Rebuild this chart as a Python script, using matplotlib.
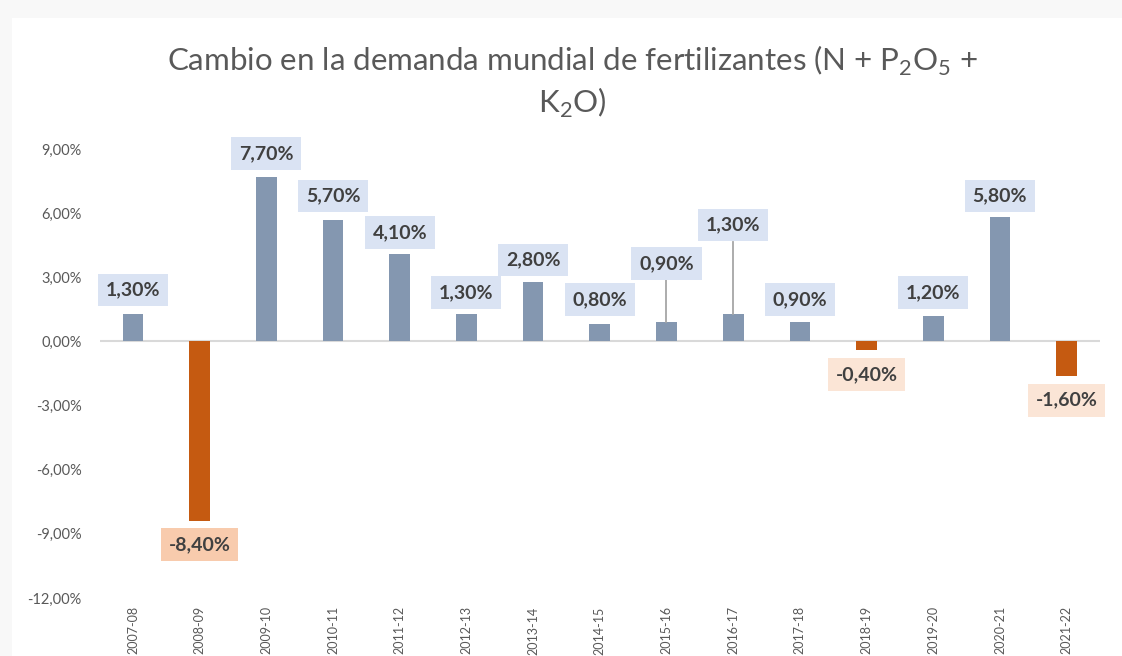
import matplotlib.pyplot as plt
from matplotlib.patches import Rectangle
from matplotlib.ticker import FuncFormatter

plt.rcParams['font.family'] = ['Lato', 'DejaVu Sans']
plt.rcParams['mathtext.fontset'] = 'custom'
plt.rcParams['mathtext.rm'] = 'Lato'

periodos = ['2007-08', '2008-09', '2009-10', '2010-11', '2011-12', '2012-13', '2013-14',
            '2014-15', '2015-16', '2016-17', '2017-18', '2018-19', '2019-20', '2020-21', '2021-22']
cambio = [1.3, -8.4, 7.7, 5.7, 4.1, 1.3, 2.8, 0.8, 0.9, 1.3, 0.9, -0.4, 1.2, 5.8, -1.6]
# centro de cada etiqueta (en % del eje), movidas a mano como en el original
pos_etiqueta = [2.4, -9.5, 8.8, 6.8, 5.1, 2.3, 3.8, 1.95, 3.65, 5.45, 1.95, -1.55, 2.3, 6.8, -2.75]

azul = '#8497B0'
naranja = '#C55A11'

fig = plt.figure(figsize=(11.22, 6.56), dpi=100, facecolor='#F8F8F8')
fig.patches.append(Rectangle((12 / 1122, 0), 1, (656 - 18) / 656, transform=fig.transFigure,
                             facecolor='white', edgecolor='none', zorder=-5))

ax = fig.add_axes([99.6 / 1122, 58 / 656, 1000.4 / 1122, 449 / 656])
ax.set_facecolor('none')

x = range(len(periodos))
colores = [azul if v >= 0 else naranja for v in cambio]
ax.bar(x, cambio, width=0.31, color=colores, zorder=2)
ax.axhline(0, color='#D9D9D9', lw=1.5, zorder=1)

for i, (v, p) in enumerate(zip(cambio, pos_etiqueta)):
    if v >= 0:
        caja = '#DAE3F3'
    elif v < -5:
        caja = '#F8CBAD'
    else:
        caja = '#FBE5D6'
    txt = f'{v:.2f}%'.replace('.', ',')
    ax.text(i, p, txt, ha='center', va='center', fontsize=14, fontweight='bold', color='#404040',
            bbox=dict(boxstyle='square,pad=0.4', facecolor=caja, edgecolor='none'), zorder=4)
    # linea guia cuando la etiqueta queda lejos de la barra
    if v > 0 and p - 0.8 - v > 0.9:
        ax.plot([i, i], [v, p - 0.8], color='#A6A6A6', lw=1.3, zorder=3)

ax.set_xlim(-0.5, len(periodos) - 0.5)
ax.set_ylim(-12, 9)
ax.set_yticks([9, 6, 3, 0, -3, -6, -9, -12])
ax.yaxis.set_major_formatter(FuncFormatter(lambda v, _: f'{v:.2f}%'.replace('.', ',')))
ax.set_xticks(list(x))
ax.set_xticklabels(periodos, rotation=90)
ax.tick_params(axis='y', length=0, pad=13, labelsize=10.5, labelcolor='#595959')
ax.tick_params(axis='x', length=0, pad=6, labelsize=9, labelcolor='#595959')
for s in ax.spines.values():
    s.set_visible(False)

fig.text(572 / 1122, 1 - 82 / 656,
         'Cambio en la demanda mundial de fertilizantes (N + P$_\\mathregular{2}$O$_\\mathregular{5}$ +\n'
         'K$_\\mathregular{2}$O)',
         ha='center', va='center', fontsize=22.5, color='#595959', linespacing=1.3)

fig.savefig('out.png', dpi=100, facecolor=fig.get_facecolor())
